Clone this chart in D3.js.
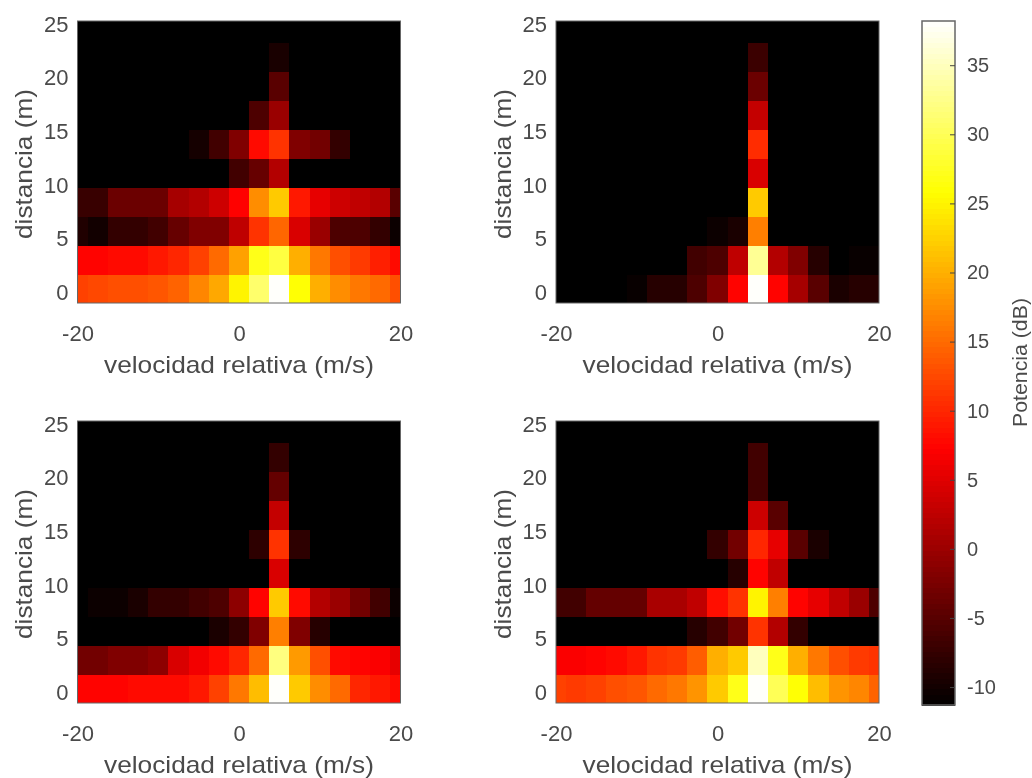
<!DOCTYPE html>
<html>
<head>
<meta charset="utf-8">
<script src="https://cdn.jsdelivr.net/npm/d3@7"></script>
<style>
  html, body { margin: 0; padding: 0; background: #fff; }
  svg { display: block; filter: blur(0.55px); }
  text { font-family: "Liberation Sans", Arial, sans-serif; fill: #4a4a4a; }
  .tick text { font-size: 22px; }
  .axis-label { font-size: 24px; }
  .cbar .tick text { font-size: 20px; }
  .cbar-label { font-size: 21px; }
  rect.cell, rect.level { shape-rendering: crispEdges; }
</style>
</head>
<body>
<svg id="chart" width="1032" height="778"></svg>
<script>
const velocities = [-20, -17.5, -15, -12.5, -10, -7.5, -5, -2.5, 0, 2.5, 5, 7.5, 10, 12.5, 15, 17.5, 20];
const distances = [0, 2.7, 5.4, 8.1, 10.8, 13.5, 16.2, 18.9, 21.6, 24.3];
const xTicks = [-20, 0, 20];
const yTicks = [0, 5, 10, 15, 20, 25];
const cbarTicks = [-10, -5, 0, 5, 10, 15, 20, 25, 30, 35];
const powerMin = -11.3, powerMax = 38.2;

// each row is one distance, bottom row first, dB
const topLeft = [
  [12, 12.5, 13, 13, 13.5, 14.5, 17, 19.5, 25, 31, 38, 26, 20, 17.5, 16, 15, 13],
  [7.5, 7.5, 8, 8, 9, 10, 12, 15, 19, 27, 29, 20, 16, 13, 11.5, 9.5, 8],
  [-9, -10, -7.6, -7.6, -6.6, -3.9, -2, -2, 2.6, 11, 14.7, 4.5, -0.1, -5.7, -5.7, -7.6, -10.4],
  [-7.2, -7.2, -3.5, -3.5, -3.5, 0.8, 1.7, 3.6, 7.3, 17.5, 22, 9, 5.5, 3.6, 2.7, 1.7, -4.8],
  [-11.3, -11.3, -11.3, -11.3, -11.3, -11.3, -11.3, -11.3, -6.6, -3.9, 1.7, -11.3, -11.3, -11.3, -11.3, -11.3, -11.3],
  [-11.3, -11.3, -11.3, -11.3, -11.3, -11.3, -9.8, -6.6, -2, 8, 11, -2, -3, -7.6, -11.3, -11.3, -11.3],
  [-11.3, -11.3, -11.3, -11.3, -11.3, -11.3, -11.3, -11.3, -11.3, -5.7, -0.1, -11.3, -11.3, -11.3, -11.3, -11.3, -11.3],
  [-11.3, -11.3, -11.3, -11.3, -11.3, -11.3, -11.3, -11.3, -11.3, -11.3, -4.8, -11.3, -11.3, -11.3, -11.3, -11.3, -11.3],
  [-11.3, -11.3, -11.3, -11.3, -11.3, -11.3, -11.3, -11.3, -11.3, -11.3, -9.5, -11.3, -11.3, -11.3, -11.3, -11.3, -11.3],
  [-11.3, -11.3, -11.3, -11.3, -11.3, -11.3, -11.3, -11.3, -11.3, -11.3, -11.3, -11.3, -11.3, -11.3, -11.3, -11.3, -11.3]
];
const topRight = [
  [-11.3, -11.3, -11.3, -11.3, -10.7, -8.5, -8.5, -5.7, -2, 7.5, 38, 7.5, 0.8, -4.8, -9.4, -8.5, -8.5],
  [-11.3, -11.3, -11.3, -11.3, -11.3, -11.3, -11.3, -6.6, -5.7, 2.6, 33, 1.7, -2, -8.5, -11.3, -10.7, -10.7],
  [-11.3, -11.3, -11.3, -11.3, -11.3, -11.3, -11.3, -11.3, -10.4, -9.4, 16.5, -11.3, -11.3, -11.3, -11.3, -11.3, -11.3],
  [-11.3, -11.3, -11.3, -11.3, -11.3, -11.3, -11.3, -11.3, -11.3, -11.3, 22, -11.3, -11.3, -11.3, -11.3, -11.3, -11.3],
  [-11.3, -11.3, -11.3, -11.3, -11.3, -11.3, -11.3, -11.3, -11.3, -11.3, 4.5, -11.3, -11.3, -11.3, -11.3, -11.3, -11.3],
  [-11.3, -11.3, -11.3, -11.3, -11.3, -11.3, -11.3, -11.3, -11.3, -11.3, 10.5, -11.3, -11.3, -11.3, -11.3, -11.3, -11.3],
  [-11.3, -11.3, -11.3, -11.3, -11.3, -11.3, -11.3, -11.3, -11.3, -11.3, 3, -11.3, -11.3, -11.3, -11.3, -11.3, -11.3],
  [-11.3, -11.3, -11.3, -11.3, -11.3, -11.3, -11.3, -11.3, -11.3, -11.3, -3.5, -11.3, -11.3, -11.3, -11.3, -11.3, -11.3],
  [-11.3, -11.3, -11.3, -11.3, -11.3, -11.3, -11.3, -11.3, -11.3, -11.3, -7, -11.3, -11.3, -11.3, -11.3, -11.3, -11.3],
  [-11.3, -11.3, -11.3, -11.3, -11.3, -11.3, -11.3, -11.3, -11.3, -11.3, -11.3, -11.3, -11.3, -11.3, -11.3, -11.3, -11.3]
];
const bottomLeft = [
  [7.5, 7.5, 7.5, 8, 8, 8, 9, 12, 16, 21, 38, 22, 17.5, 15, 10, 9, 8],
  [-3, -3, -2, -2, -1, 4.5, 6.4, 8, 10, 15, 32, 18.5, 13, 8, 7.5, 7, 5.5],
  [-11.3, -11.3, -11.3, -11.3, -11.3, -11.3, -11.3, -9.4, -7.6, -2, 16.5, -2, -8.5, -11.3, -11.3, -11.3, -11.3],
  [-11.3, -10.4, -10.4, -9.4, -7.6, -7.6, -6.6, -5.7, -1, 7.5, 22, 8, 1.7, -0.1, -3, -6.6, -10.4],
  [-11.3, -11.3, -11.3, -11.3, -11.3, -11.3, -11.3, -11.3, -11.3, -11.3, 4.5, -11.3, -11.3, -11.3, -11.3, -11.3, -11.3],
  [-11.3, -11.3, -11.3, -11.3, -11.3, -11.3, -11.3, -11.3, -11.3, -8, 11, -8, -11.3, -11.3, -11.3, -11.3, -11.3],
  [-11.3, -11.3, -11.3, -11.3, -11.3, -11.3, -11.3, -11.3, -11.3, -11.3, 3, -11.3, -11.3, -11.3, -11.3, -11.3, -11.3],
  [-11.3, -11.3, -11.3, -11.3, -11.3, -11.3, -11.3, -11.3, -11.3, -11.3, -4, -11.3, -11.3, -11.3, -11.3, -11.3, -11.3],
  [-11.3, -11.3, -11.3, -11.3, -11.3, -11.3, -11.3, -11.3, -11.3, -11.3, -7.6, -11.3, -11.3, -11.3, -11.3, -11.3, -11.3],
  [-11.3, -11.3, -11.3, -11.3, -11.3, -11.3, -11.3, -11.3, -11.3, -11.3, -11.3, -11.3, -11.3, -11.3, -11.3, -11.3, -11.3]
];
const bottomRight = [
  [12, 11.5, 12, 13, 13.5, 15, 16, 18, 22, 27, 38, 30, 26, 21, 18, 17, 14.5],
  [7, 7, 7.5, 8, 9, 11, 11.5, 14, 20, 22, 35, 27, 20, 16, 13, 11.5, 11],
  [-11.3, -11.3, -11.3, -11.3, -11.3, -11.3, -11.3, -8.5, -6.6, -3, 11, 1.7, -7.6, -11.3, -11.3, -11.3, -11.3],
  [-6.6, -6.6, -4, -4, -4, 1, 1, 2.7, 8.3, 11, 25, 16.5, 7.5, 5.5, 2.7, -0.1, -5.7],
  [-11.3, -11.3, -11.3, -11.3, -11.3, -11.3, -11.3, -11.3, -11.3, -8.5, 7.5, 2.7, -11.3, -11.3, -11.3, -11.3, -11.3],
  [-11.3, -11.3, -11.3, -11.3, -11.3, -11.3, -11.3, -11.3, -7.6, -3, 10, 5.5, -4.8, -9.4, -11.3, -11.3, -11.3],
  [-11.3, -11.3, -11.3, -11.3, -11.3, -11.3, -11.3, -11.3, -11.3, -11.3, 3.6, -4.8, -11.3, -11.3, -11.3, -11.3, -11.3],
  [-11.3, -11.3, -11.3, -11.3, -11.3, -11.3, -11.3, -11.3, -11.3, -11.3, -6.6, -11.3, -11.3, -11.3, -11.3, -11.3, -11.3],
  [-11.3, -11.3, -11.3, -11.3, -11.3, -11.3, -11.3, -11.3, -11.3, -11.3, -6.6, -11.3, -11.3, -11.3, -11.3, -11.3, -11.3],
  [-11.3, -11.3, -11.3, -11.3, -11.3, -11.3, -11.3, -11.3, -11.3, -11.3, -11.3, -11.3, -11.3, -11.3, -11.3, -11.3, -11.3]
];

const panels = [
  {values: topLeft, left: 77.5, top: 21},
  {values: topRight, left: 556, top: 21},
  {values: bottomLeft, left: 77.5, top: 421},
  {values: bottomRight, left: 556, top: 421}
];
const panelWidth = 323, panelHeight = 282;
const cellV = 2.5, cellD = 2.7;

const svg = d3.select("#chart");

// same stops as the "hot" colormap
const span = powerMax - powerMin;
const hot = d3.scaleLinear()
  .domain([powerMin, powerMin + span * 0.375, powerMin + span * 0.75, powerMax])
  .range(["#000000", "#ff0000", "#ffff00", "#ffffff"])
  .clamp(true);

function drawPanel(p) {
  const x = d3.scaleLinear().domain([-20, 20]).range([0, panelWidth]).clamp(true);
  const y = d3.scaleLinear().domain([-1.25, 25]).range([panelHeight, 0]).clamp(true);

  const g = svg.append("g").attr("transform", `translate(${p.left},${p.top})`);

  const cells = p.values.flatMap((row, r) => row.map((v, c) => ({v: v, vel: velocities[c], dist: distances[r]})));
  g.append("g")
    .selectAll("rect")
    .data(cells)
    .enter()
    .append("rect")
    .attr("class", "cell")
    .attr("x", d => x(d.vel - cellV / 2))
    .attr("y", d => y(d.dist + cellD / 2))
    .attr("width", d => x(d.vel + cellV / 2) - x(d.vel - cellV / 2))
    .attr("height", d => y(d.dist - cellD / 2) - y(d.dist + cellD / 2))
    .attr("fill", d => hot(d.v));

  g.append("rect")
    .attr("width", panelWidth)
    .attr("height", panelHeight)
    .attr("fill", "none")
    .attr("stroke", "#666")
    .attr("stroke-width", 1);

  const xAxis = g.append("g").attr("transform", `translate(0,${panelHeight})`)
    .call(d3.axisBottom(x).tickValues(xTicks).tickSize(0).tickPadding(22).tickFormat(String));
  xAxis.select(".domain").remove();

  const yAxis = g.append("g")
    .call(d3.axisLeft(y).tickValues(yTicks).tickSize(0).tickPadding(9).tickFormat(String));
  yAxis.select(".domain").remove();
  yAxis.selectAll("text").attr("dy", "0.46em");

  g.append("text")
    .attr("class", "axis-label")
    .attr("text-anchor", "middle")
    .attr("textLength", 270)
    .attr("lengthAdjust", "spacingAndGlyphs")
    .attr("x", panelWidth / 2)
    .attr("y", panelHeight + 70)
    .text("velocidad relativa (m/s)");

  g.append("text")
    .attr("class", "axis-label")
    .attr("text-anchor", "middle")
    .attr("textLength", 150)
    .attr("lengthAdjust", "spacingAndGlyphs")
    .attr("transform", `translate(-45.5,${panelHeight / 2 + 2}) rotate(-90)`)
    .text("distancia (m)");
}

panels.forEach(drawPanel);

// colorbar
const cbarLeft = 922, cbarTop = 21, cbarWidth = 33, cbarHeight = 684;
const cy = d3.scaleLinear().domain([powerMin, powerMax]).range([cbarHeight, 0]);
const levels = d3.range(128).map(i => powerMin + (i + 0.5) * span / 128);

const cbar = svg.append("g").attr("class", "cbar").attr("transform", `translate(${cbarLeft},${cbarTop})`);
cbar.selectAll("rect.level")
  .data(levels)
  .enter()
  .append("rect")
  .attr("class", "level")
  .attr("x", 0)
  .attr("y", d => cy(d + span / 256))
  .attr("width", cbarWidth)
  .attr("height", cbarHeight / 128 + 0.5)
  .attr("fill", d => hot(d));

cbar.append("rect")
  .attr("width", cbarWidth)
  .attr("height", cbarHeight)
  .attr("fill", "none")
  .attr("stroke", "#666")
  .attr("stroke-width", 1.5);

const cbarAxis = cbar.append("g").attr("transform", `translate(${cbarWidth},0)`)
  .call(d3.axisRight(cy).tickValues(cbarTicks).tickSize(-5).tickPadding(12).tickFormat(String));
cbarAxis.select(".domain").remove();
cbarAxis.selectAll("line").attr("stroke", "#444");

svg.append("text")
  .attr("class", "cbar-label")
  .attr("text-anchor", "middle")
  .attr("textLength", 129)
  .attr("lengthAdjust", "spacingAndGlyphs")
  .attr("transform", `translate(1027,362.5) rotate(-90)`)
  .text("Potencia (dB)");
</script>
</body>
</html>
